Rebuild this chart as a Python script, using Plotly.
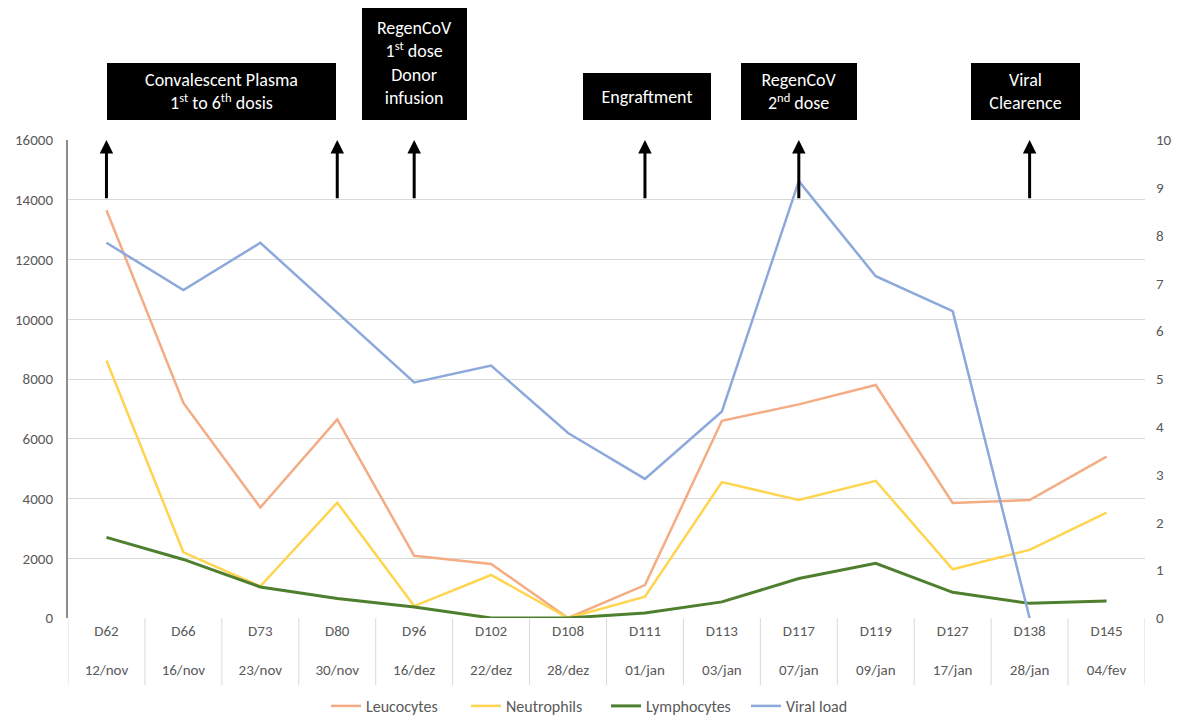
import plotly.graph_objects as go

days = ["D62", "D66", "D73", "D80", "D96", "D102", "D108", "D111", "D113", "D117", "D119", "D127", "D138", "D145"]
dates = ["12/nov", "16/nov", "23/nov", "30/nov", "16/dez", "22/dez", "28/dez", "01/jan", "03/jan", "07/jan", "09/jan", "17/jan", "28/jan", "04/fev"]

leucocytes = [13650, 7200, 3700, 6650, 2080, 1810, 0, 1100, 6600, 7150, 7800, 3850, 3950, 5400]
neutrophils = [8620, 2200, 1060, 3860, 400, 1440, 0, 710, 4550, 3950, 4590, 1630, 2280, 3530]
lymphocytes = [2700, 1960, 1040, 650, 370, 0, 0, 170, 540, 1320, 1830, 860, 490, 570]
viral_load = [7.85, 6.86, 7.85, 6.4, 4.93, 5.28, 3.87, 2.91, 4.32, 9.14, 7.15, 6.42, 0, None]

event_days = ["D62", "D80", "D96", "D111", "D117", "D138"]

FONT = "Carlito, Calibri, Lato, sans-serif"
GREY = "#595959"

OFF = 8
W, H = 1183, 717
L, T = 60, 132
PW, PH = 1077, 478
R, B = W - L - PW, H - T - PH


def px_x(x):
    return (x - OFF - L) / PW


def px_y(y):
    return (T + PH - (y - OFF)) / PH


fig = go.Figure()
fig.add_trace(go.Scatter(x=days, y=leucocytes, name="Leucocytes", mode="lines", line=dict(color="#F4AC84", width=2.5)))
fig.add_trace(go.Scatter(x=days, y=neutrophils, name="Neutrophils", mode="lines", line=dict(color="#FFD54F", width=2.5)))
fig.add_trace(go.Scatter(x=days, y=lymphocytes, name="Lymphocytes", mode="lines", line=dict(color="#4E7F2E", width=3)))
fig.add_trace(go.Scatter(x=days, y=viral_load, name="Viral load", mode="lines", line=dict(color="#8DA9DB", width=2.5), yaxis="y2"))

# category "table" separators below the x axis
for i in range(len(days) + 1):
    fig.add_shape(type="line", xref="x", yref="paper", x0=i - 0.5, x1=i - 0.5, y0=0, y1=px_y(685),
                  line=dict(color="#D9D9D9", width=1))

# event arrows
for d in event_days:
    fig.add_annotation(x=d, y=16000, xref="x", yref="y", ax=0, axref="pixel", ay=14000, ayref="y",
                       text="", showarrow=True, arrowhead=2, arrowsize=0.9, arrowwidth=3, arrowcolor="black")

# event boxes: (text, left, top, right, bottom) in screenshot pixels
boxes = [
    ("Convalescent Plasma<br>1<sup>st</sup> to 6<sup>th</sup> dosis", 107, 63, 336, 120),
    ("RegenCoV<br>1<sup>st</sup> dose<br>Donor<br>infusion", 362, 6, 467, 120),
    ("Engraftment", 583, 73, 711, 120),
    ("RegenCoV<br>2<sup>nd</sup> dose", 741, 63, 857, 120),
    ("Viral<br>Clearence", 971, 63, 1080, 120),
]
for text, x0, y0, x1, y1 in boxes:
    fig.add_annotation(x=px_x((x0 + x1) / 2), y=px_y((y0 + y1) / 2), xref="paper", yref="paper",
                       xanchor="center", yanchor="middle", text=text, showarrow=False,
                       width=x1 - x0 - 2, height=y1 - y0 - 2, bgcolor="black", bordercolor="black",
                       borderwidth=1, borderpad=0, font=dict(color="white", size=18, family=FONT))

fig.update_layout(
    width=W, height=H,
    margin=dict(l=L, r=R, t=T, b=B, autoexpand=False),
    paper_bgcolor="white", plot_bgcolor="white",
    font=dict(family=FONT, color=GREY, size=15),
    showlegend=True,
    legend=dict(orientation="h", x=px_x(606), xanchor="center", y=px_y(706), yanchor="middle",
                font=dict(size=16, color=GREY), traceorder="normal", entrywidth=95, entrywidthmode="pixels"),
    xaxis=dict(
        type="category", categoryorder="array", categoryarray=days,
        tickmode="array", tickvals=days,
        ticktext=[f"{d}<br><br>{t}" for d, t in zip(days, dates)],
        range=[-0.5, len(days) - 0.5], showgrid=False, zeroline=False, showline=False,
        ticks="", tickfont=dict(size=15, color=GREY), automargin=False, ticklabelstandoff=2,
    ),
    yaxis=dict(range=[0, 16000], dtick=2000, tickformat="d", showgrid=True, gridcolor="#D9D9D9", gridwidth=1,
               zeroline=False, showline=True, linecolor="#8C8C8C", linewidth=2, ticks="",
               tickfont=dict(size=15, color=GREY), ticklabelstandoff=10, automargin=False),
    yaxis2=dict(range=[0, 10], dtick=1, overlaying="y", side="right", showgrid=False, zeroline=False,
                showline=False, ticks="", tickfont=dict(size=15, color=GREY), ticklabelstandoff=10,
                automargin=False),
)

fig.write_html("out.html")
